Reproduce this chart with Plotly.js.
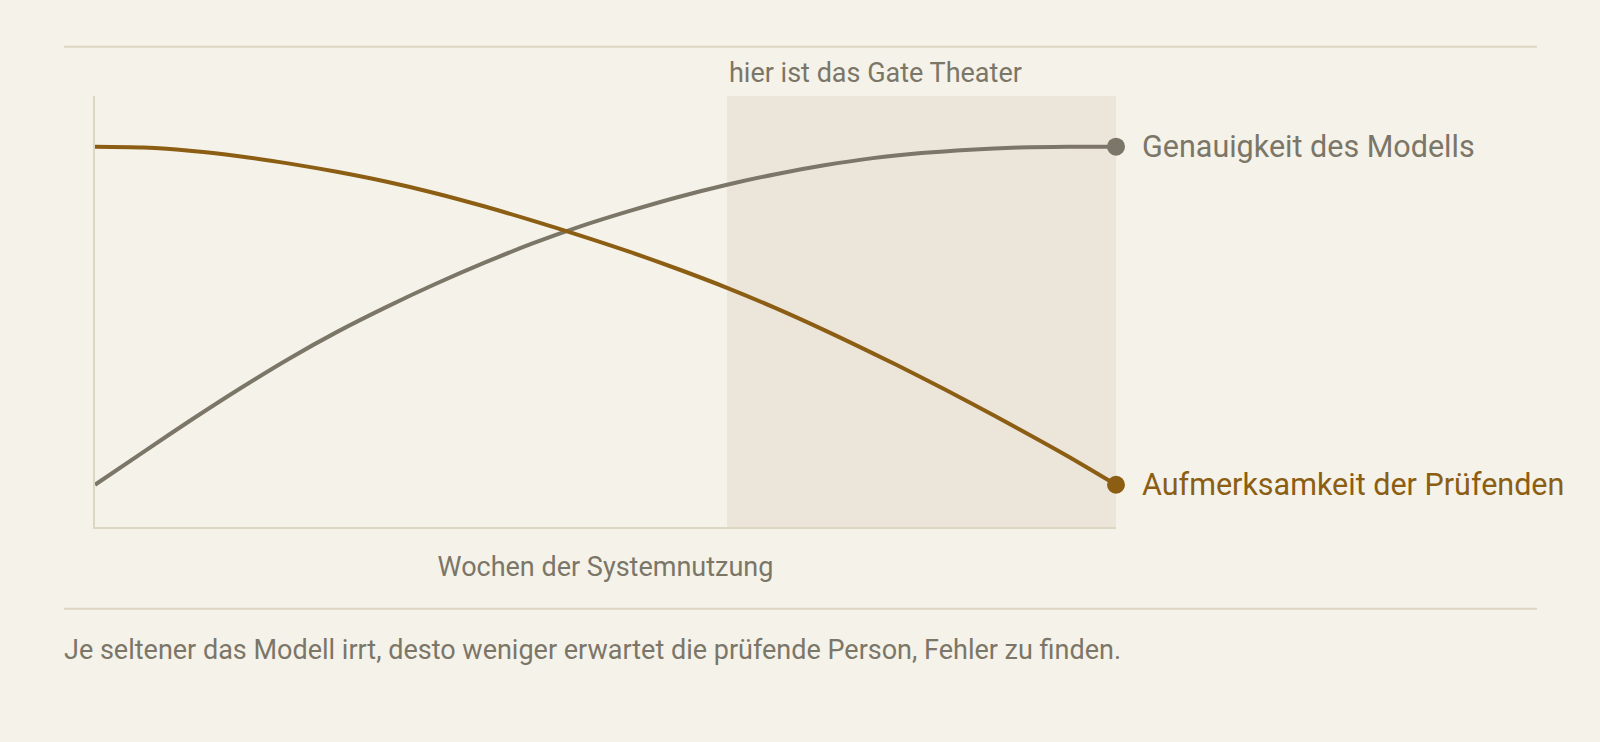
<!DOCTYPE html>
<html>
<head>
<meta charset="utf-8">
<script src="https://cdn.plot.ly/plotly-3.0.1.min.js"></script>
<style>
  html, body { margin: 0; padding: 0; background: #f5f2e9; }
  #chart { width: 1600px; height: 742px; }
</style>
</head>
<body>
<div id="chart"></div>
<script>
// weeks of use, values at even spacing
const weeks = [0, 1, 2, 3, 4, 5, 6, 7, 8, 9, 10, 11, 12, 13, 14, 15, 16, 17, 18, 19, 20, 21];
const accuracy = [0.100, 0.178, 0.255, 0.329, 0.399, 0.463, 0.521, 0.575, 0.625, 0.671, 0.712,
                  0.748, 0.781, 0.810, 0.835, 0.856, 0.873, 0.885, 0.893, 0.898, 0.900, 0.900];
const attention = [0.900, 0.898, 0.890, 0.877, 0.860, 0.840, 0.817, 0.790, 0.759, 0.725, 0.689,
                   0.651, 0.610, 0.566, 0.518, 0.466, 0.411, 0.354, 0.294, 0.232, 0.168, 0.100];
const gateStart = 13;
const seriesNames = ['Genauigkeit des Modells', 'Aufmerksamkeit der Prüfenden'];
const gateLabel = 'hier ist das Gate Theater';
const xTitle = 'Wochen der Systemnutzung';
const caption = 'Je seltener das Modell irrt, desto weniger erwartet die prüfende Person, Fehler zu finden.';

const GREY = '#7b7668';
const BROWN = '#8b5e13';
const RULE = '#ddd6c3';
const BG = '#f5f2e9';
const FONT = 'Roboto, sans-serif';

// only the last point of each line gets a dot
function endMarker(arr, size) {
    return arr.map((_, i) => i === arr.length - 1 ? size : 0);
}

function lineTrace(y, color) {
    return {
        x: weeks, y: y, type: 'scatter', mode: 'lines+markers',
        line: { color: color, width: 4, shape: 'spline', smoothing: 0.8 },
        marker: { color: color, size: endMarker(weeks, 18), opacity: 1, line: { width: 0 } },
        cliponaxis: false, hoverinfo: 'skip'
    };
}

const traces = [lineTrace(accuracy, GREY), lineTrace(attention, BROWN)];
const lastWeek = weeks[weeks.length - 1];

const layout = {
    width: 1600, height: 742,
    margin: { l: 95, r: 484, t: 96, b: 215 },
    paper_bgcolor: BG,
    plot_bgcolor: BG,
    showlegend: false,
    font: { family: FONT, color: GREY, size: 27 },
    xaxis: {
        range: [0, lastWeek], showgrid: false, zeroline: false, showticklabels: false, ticks: '',
        showline: true, linecolor: RULE, linewidth: 2,
        title: { text: xTitle, font: { size: 27, color: GREY }, standoff: 29 }
    },
    yaxis: {
        range: [0, 1.02], showgrid: false, zeroline: false, showticklabels: false, ticks: '',
        showline: true, linecolor: RULE, linewidth: 2
    },
    shapes: [
        { type: 'rect', xref: 'x', yref: 'paper', x0: gateStart, x1: lastWeek, y0: 0, y1: 1,
          fillcolor: '#ece5da', line: { width: 0 }, layer: 'below' },
        { type: 'line', xref: 'paper', yref: 'paper', x0: -0.0304, x1: 1.4123, y0: 1.1144, y1: 1.1144,
          line: { color: RULE, width: 2 } },
        { type: 'line', xref: 'paper', yref: 'paper', x0: -0.0304, x1: 1.4123, y0: -0.1896, y1: -0.1896,
          line: { color: RULE, width: 2 } }
    ],
    annotations: [
        { x: gateStart, xref: 'x', y: 1.0545, yref: 'paper', text: gateLabel, showarrow: false,
          xanchor: 'left', yanchor: 'middle', font: { size: 27, color: GREY } },
        { x: lastWeek, y: accuracy[accuracy.length - 1], text: seriesNames[0], showarrow: false,
          xanchor: 'left', yanchor: 'middle', xshift: 24, font: { size: 30.5, color: GREY } },
        { x: lastWeek, y: attention[attention.length - 1], text: seriesNames[1], showarrow: false,
          xanchor: 'left', yanchor: 'middle', xshift: 24, font: { size: 30.5, color: BROWN } },
        { x: -0.0304, xref: 'paper', y: -0.2854, yref: 'paper', text: caption, showarrow: false,
          xanchor: 'left', yanchor: 'middle', xshift: -2, font: { size: 27, color: GREY } }
    ]
};

Plotly.newPlot('chart', traces, layout, { displayModeBar: false, staticPlot: true });
</script>
</body>
</html>
